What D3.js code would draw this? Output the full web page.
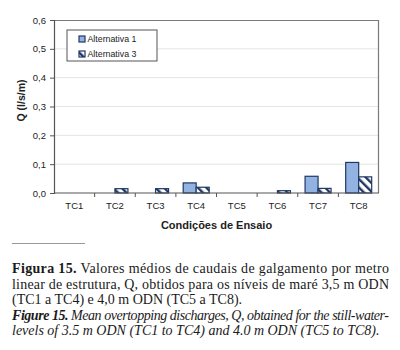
<!DOCTYPE html>
<html>
<head>
<meta charset="utf-8">
<script src="https://cdn.jsdelivr.net/npm/d3@7"></script>
<style>
  body { margin: 0; background: #fff; }
  svg { display: block; }
</style>
</head>
<body>
<div id="chart"></div>
<script>
// Data
const categories = ["TC1", "TC2", "TC3", "TC4", "TC5", "TC6", "TC7", "TC8"];
const alternativa1 = [0, 0, 0, 0.035, 0, 0, 0.058, 0.106];
const alternativa3 = [0, 0.015, 0.015, 0.02, 0, 0.008, 0.016, 0.056];
const seriesNames = ["Alternativa 1", "Alternativa 3"];
const yTicks = [0, 0.1, 0.2, 0.3, 0.4, 0.5, 0.6];

const captionLines = [
    { bold: "Figura 15.", text: " Valores médios de caudais de galgamento por metro", justify: true, italic: false },
    { bold: "", text: "linear de estrutura, Q, obtidos para os níveis de maré 3,5 m ODN", justify: true, italic: false },
    { bold: "", text: "(TC1 a TC4) e 4,0 m ODN (TC5 a TC8).", justify: false, italic: false },
    { bold: "Figure 15.", text: " Mean overtopping discharges, Q, obtained for the still-water-", justify: true, italic: true },
    { bold: "", text: "levels of 3.5 m ODN (TC1 to TC4) and 4.0 m ODN (TC5 to TC8).", justify: false, italic: true }
];

const width = 400, height = 350;
const margin = { left: 54, top: 20, right: 21, bottom: 157 };
const plotW = width - margin.left - margin.right;
const plotH = height - margin.top - margin.bottom;

const navy = "#1f3864";
const lightBlue = "#92b2e2";

const svg = d3.select("#chart").append("svg")
    .attr("width", width)
    .attr("height", height);

// Diagonal hatch pattern for Alternativa 3
const defs = svg.append("defs");
const pat = defs.append("pattern")
    .attr("id", "hatch")
    .attr("patternUnits", "userSpaceOnUse")
    .attr("width", 6)
    .attr("height", 6)
    .attr("patternTransform", "rotate(-45)");
pat.append("rect").attr("width", 6).attr("height", 6).attr("fill", "#fff");
pat.append("rect").attr("x", 0).attr("width", 2.4).attr("height", 6).attr("fill", navy);

const g = svg.append("g").attr("transform", `translate(${margin.left},${margin.top})`);

const x = d3.scaleBand().domain(categories).range([0, plotW]);
const xSub = d3.scaleBand().domain(seriesNames).range([x.bandwidth() / 2 - 13, x.bandwidth() / 2 + 13]);
const y = d3.scaleLinear().domain([0, 0.6]).range([plotH, 0]);

// Gridlines
g.selectAll(".grid")
    .data(yTicks.filter(t => t > 0 && t < 0.6))
    .enter().append("line")
    .attr("x1", 0).attr("x2", plotW)
    .attr("y1", d => y(d)).attr("y2", d => y(d))
    .attr("stroke", "#e4e4e4")
    .attr("stroke-width", 1);

// Top and right border
g.append("path")
    .attr("d", `M0,${y(0.6) + 0.5}H${plotW - 0.5}V${plotH}`)
    .attr("fill", "none")
    .attr("stroke", "#7a7a7a")
    .attr("stroke-width", 1.2);

// Bars
const fills = [lightBlue, "url(#hatch)"];
const series = [alternativa1, alternativa3];
series.forEach((vals, si) => {
    g.selectAll(".bar" + si)
        .data(vals.map((v, i) => ({ cat: categories[i], v })).filter(d => d.v > 0))
        .enter().append("rect")
        .attr("x", d => x(d.cat) + xSub(seriesNames[si]))
        .attr("y", d => y(d.v))
        .attr("width", xSub.bandwidth())
        .attr("height", d => y(0) - y(d.v))
        .attr("fill", fills[si])
        .attr("stroke", navy)
        .attr("stroke-width", 1.2);
});

// Y axis
const yAxis = d3.axisLeft(y)
    .tickValues(yTicks)
    .tickSize(4)
    .tickFormat(d => d3.format(".1f")(d).replace(".", ","));
const yg = g.append("g").call(yAxis);
yg.select(".domain").attr("stroke", "#555").attr("stroke-width", 1.2);
yg.selectAll(".tick line").attr("stroke", "#555");
yg.selectAll(".tick text")
    .attr("font-family", "Liberation Sans, Arial, sans-serif")
    .attr("font-size", 9.5)
    .attr("fill", "#222")
    .attr("x", -8);

// X axis: ticks at category boundaries
const xg = g.append("g").attr("transform", `translate(0,${plotH})`);
xg.append("line")
    .attr("x1", 0).attr("x2", plotW)
    .attr("stroke", "#555").attr("stroke-width", 1.2);
xg.selectAll(".xtick")
    .data(categories.slice(1))
    .enter().append("line")
    .attr("x1", d => x(d)).attr("x2", d => x(d))
    .attr("y1", 0).attr("y2", 4)
    .attr("stroke", "#555");
xg.selectAll(".xlabel")
    .data(categories)
    .enter().append("text")
    .attr("x", d => x(d) + x.bandwidth() / 2)
    .attr("y", 16)
    .attr("text-anchor", "middle")
    .attr("font-family", "Liberation Sans, Arial, sans-serif")
    .attr("font-size", 9.5)
    .attr("fill", "#222")
    .text(d => d);

// Axis titles
svg.append("text")
    .attr("transform", `translate(25,${margin.top + plotH / 2 - 6}) rotate(-90)`)
    .attr("text-anchor", "middle")
    .attr("font-family", "Liberation Sans, Arial, sans-serif")
    .attr("font-weight", "bold")
    .attr("font-size", 10.5)
    .attr("fill", "#222")
    .text("Q (l/s/m)");

svg.append("text")
    .attr("x", margin.left + plotW / 2)
    .attr("y", 229)
    .attr("text-anchor", "middle")
    .attr("font-family", "Liberation Sans, Arial, sans-serif")
    .attr("font-weight", "bold")
    .attr("font-size", 11)
    .attr("fill", "#222")
    .text("Condições de Ensaio");

// Legend
const legend = svg.append("g").attr("transform", "translate(67,30)");
legend.append("rect")
    .attr("width", 90).attr("height", 31)
    .attr("fill", "#fff")
    .attr("stroke", "#555")
    .attr("stroke-width", 1);
seriesNames.forEach((name, i) => {
    const row = legend.append("g").attr("transform", `translate(12,${9 + i * 15})`);
    row.append("rect")
        .attr("x", 0).attr("y", -3)
        .attr("width", 6).attr("height", 6)
        .attr("fill", fills[i])
        .attr("stroke", navy)
        .attr("stroke-width", 1.2);
    row.append("text")
        .attr("x", 8.5)
        .attr("y", 3.2)
        .attr("font-family", "Liberation Sans, Arial, sans-serif")
        .attr("font-size", 8.8)
        .attr("fill", "#222")
        .text(name);
});

// Caption
svg.append("line")
    .attr("x1", 12).attr("x2", 85)
    .attr("y1", 243.5).attr("y2", 243.5)
    .attr("stroke", "#999").attr("stroke-width", 1);

const cap = svg.append("g");
captionLines.forEach((ln, i) => {
    const t = cap.append("text")
        .attr("x", 12)
        .attr("y", 273 + i * 15.5)
        .attr("font-family", "Liberation Serif, Times New Roman, serif")
        .attr("font-size", 14)
        .attr("fill", "#1a1a1a")
        .attr("font-style", ln.italic ? "italic" : "normal");
    if (ln.justify) {
        t.attr("textLength", 377).attr("lengthAdjust", "spacing");
    }
    if (ln.bold) t.append("tspan").attr("font-weight", "bold").text(ln.bold);
    t.append("tspan").text(ln.text);
});
</script>
</body>
</html>
